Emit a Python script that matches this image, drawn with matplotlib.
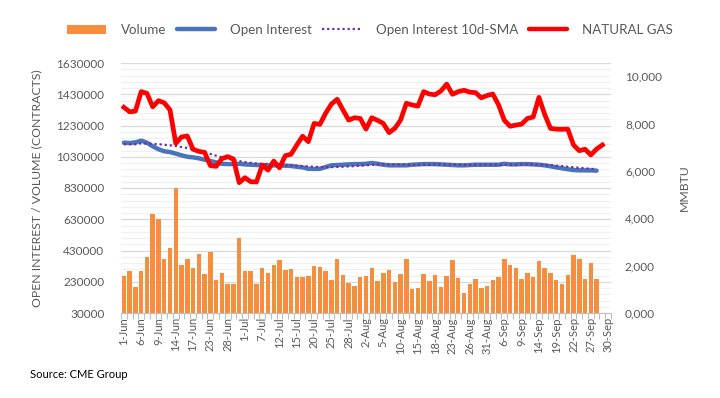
import matplotlib
matplotlib.use('Agg')
import matplotlib.pyplot as plt
import matplotlib.ticker as ticker
from matplotlib.lines import Line2D
from matplotlib.patches import Patch
import pandas as pd

# trading days, Jun-Sep 2022 (Juneteenth, Independence Day, Labor Day closed)
holidays = ['2022-06-20', '2022-07-04', '2022-09-05']
days = pd.bdate_range('2022-06-01', '2022-09-30', freq='C', holidays=holidays)

tick_labels = ['1-Jun', '6-Jun', '9-Jun', '14-Jun', '17-Jun', '23-Jun', '28-Jun',
               '1-Jul', '7-Jul', '12-Jul', '15-Jul', '20-Jul', '25-Jul', '28-Jul',
               '2-Aug', '5-Aug', '10-Aug', '15-Aug', '18-Aug', '23-Aug', '26-Aug',
               '31-Aug', '6-Sep', '9-Sep', '14-Sep', '19-Sep', '22-Sep', '27-Sep',
               '30-Sep']

volume = [266800, 298800, 196400, 298800, 388400, 665500, 631600, 375600, 446000, 830000,
          337200, 375600, 318000, 407600, 279600, 420400, 241200, 286000, 215600, 215600,
          510000, 298800, 298800, 215600, 318000, 286000, 337200, 369200, 305200, 311600,
          260400, 260400, 266800, 330800, 324400, 298800, 241200, 375600, 273200, 222000,
          202800, 260400, 264900, 316000, 232900, 284100, 303300, 226500, 277700, 373700,
          181700, 188100, 277700, 232900, 271000, 194500, 264900, 367300, 252100, 156100,
          213700, 245700, 188100, 200900, 239300, 258500, 373700, 335300, 316000, 245700,
          284100, 258500, 360900, 316000, 284100, 239300, 213700, 271000, 399300, 373700,
          245700, 348100, 245700]

open_interest = [1120000, 1118000, 1122000, 1133000, 1120000, 1097000, 1078000, 1065000,
                 1060000, 1050000, 1039000, 1030000, 1026000, 1020000, 1011000, 1003000,
                 994000, 985000, 983000, 983000, 985000, 981000, 979000, 977000, 977000,
                 975000, 975000, 973000, 973000, 971000, 966000, 962000, 953000, 952000,
                 953000, 964000, 975000, 977000, 979000, 981000, 983000, 983000, 985000,
                 990000, 985000, 979000, 975000, 975000, 975000, 975000, 979000, 981000,
                 983000, 983000, 983000, 981000, 979000, 977000, 975000, 975000, 977000,
                 979000, 979000, 979000, 979000, 979000, 985000, 981000, 981000, 983000,
                 983000, 981000, 979000, 975000, 969000, 962000, 956000, 950000, 945000,
                 943000, 943000, 943000, 941000]

oi_sma = [1110000, 1110000, 1110000, 1116000, 1114000, 1112000, 1110000, 1107000,
          1103000, 1099000, 1092000, 1086000, 1078000, 1067000, 1058000, 1048000,
          1037000, 1026000, 1018000, 1009000, 1002000, 996000, 991000, 987000, 984000,
          981000, 979000, 977000, 975000, 974000, 972000, 970000, 968000, 966000,
          964000, 964000, 964000, 965000, 966000, 968000, 970000, 973000, 975000,
          978000, 980000, 981000, 981000, 981000, 980000, 979000, 978000, 978000,
          979000, 980000, 980000, 980000, 980000, 980000, 979000, 978000, 978000,
          978000, 978000, 979000, 979000, 979000, 979000, 980000, 980000, 980000,
          980000, 980000, 979000, 978000, 976000, 973000, 970000, 966000, 963000,
          959000, 956000, 953000, 950000]

natural_gas = [8680, 8490, 8520, 9340, 9270, 8700, 8960, 8870, 8570, 7160, 7430, 7470,
               6910, 6820, 6780, 6220, 6190, 6510, 6600, 6500, 5500, 5710, 5540, 5530,
               6240, 6030, 6410, 6130, 6640, 6700, 7090, 7460, 7230, 8000, 7960, 8430,
               8820, 9020, 8570, 8140, 8240, 8210, 7760, 8240, 8130, 8000, 7610, 7790,
               8140, 8850, 8780, 8730, 9340, 9240, 9210, 9370, 9660, 9230, 9340, 9400,
               9320, 9300, 9080, 9180, 9240, 8780, 8130, 7880, 7930, 7970, 8210, 8270,
               9100, 8380, 7790, 7760, 7750, 7760, 7090, 6850, 6910, 6670, 6920, 7090]

c_orange = '#F68E3E'
c_blue = '#4A73BE'
c_purple = '#7030A0'
c_red = '#FF0000'
c_text = '#595959'

plt.rcParams['font.family'] = ['Lato', 'DejaVu Sans']

fig, ax = plt.subplots(figsize=(7.2, 3.98), dpi=100)
fig.subplots_adjust(left=121 / 720, right=611 / 720, top=1 - 63 / 398, bottom=1 - 313 / 398)

pos_v = list(range(len(volume)))
pos_ng = list(range(len(natural_gas)))

ax.bar(pos_v, volume, width=0.78, color=c_orange, zorder=2)
ax.plot(pos_v, open_interest, color=c_blue, lw=3.2, solid_capstyle='round', zorder=3)
ax.plot(pos_v, oi_sma, color=c_purple, lw=1.6, linestyle=(0, (1, 1.3)), zorder=4)

ax.set_xlim(-0.5, len(days) - 0.5)
ax.set_ylim(30000, 1630000)
ax.yaxis.set_major_locator(ticker.MultipleLocator(200000, offset=30000))
ax.yaxis.set_minor_locator(ticker.AutoMinorLocator(5))
ax.yaxis.set_major_formatter(ticker.FuncFormatter(lambda v, p: f'{int(round(v))}'))
ax.grid(axis='y', which='major', color='#D9D9D9', lw=0.9, zorder=0)
ax.grid(axis='y', which='minor', color='#F0F0F0', lw=0.9, zorder=0)
ax.set_axisbelow(True)

ax.set_xticks([i for i in range(0, len(days), 3)])
ax.set_xticklabels(tick_labels, rotation=90, fontsize=8, color=c_text)
ax.set_xticks([i - 0.5 for i in range(len(days) + 1)], minor=True)
ax.tick_params(axis='x', which='major', length=0, pad=3)
ax.tick_params(axis='x', which='minor', length=4, color='#BFBFBF', width=0.8)
ax.tick_params(axis='y', which='both', length=0, labelsize=8.5, labelcolor=c_text, pad=12)

for side in ['top', 'left', 'right']:
    ax.spines[side].set_visible(False)
ax.spines['bottom'].set_color('#BFBFBF')

ax.set_ylabel('OPEN INTEREST / VOLUME (CONTRACTS)', fontsize=8.8, color=c_text, labelpad=10)

ax2 = ax.twinx()
ax2.plot(pos_ng, natural_gas, color=c_red, lw=3.4, solid_joinstyle='round', zorder=5)
ax2.set_ylim(0, 10550)
ax2.yaxis.set_major_locator(ticker.MultipleLocator(2000))
ax2.yaxis.set_major_formatter(
    ticker.FuncFormatter(lambda v, p: f'{int(v) // 1000},{int(v) % 1000:03d}'))
ax2.tick_params(axis='y', length=0, labelsize=8.5, labelcolor=c_text, pad=10)
for side in ['top', 'left', 'right', 'bottom']:
    ax2.spines[side].set_visible(False)
ax2.set_ylabel('MMBTU', fontsize=8.8, color=c_text, labelpad=12)

handles = [
    Patch(facecolor=c_orange, edgecolor='none'),
    Line2D([], [], color=c_blue, lw=3.2, solid_capstyle='round'),
    Line2D([], [], color=c_purple, lw=1.6, linestyle=(0, (1, 1.3))),
    Line2D([], [], color=c_red, lw=3.2, solid_capstyle='round'),
]
labels = ['Volume', 'Open Interest', 'Open Interest 10d-SMA', 'NATURAL GAS']
fig.legend(handles, labels, loc='center', bbox_to_anchor=(370 / 720, 1 - 30 / 398), ncol=4,
           frameon=False, fontsize=9.6, labelcolor=c_text, handlelength=2.9,
           handleheight=0.7, handletextpad=1.1, columnspacing=0.8)

fig.text(30 / 720, 1 - 375 / 398, 'Source: CME Group', fontsize=8, color='#000000',
         va='center', ha='left')

fig.savefig('out.png', dpi=100)
